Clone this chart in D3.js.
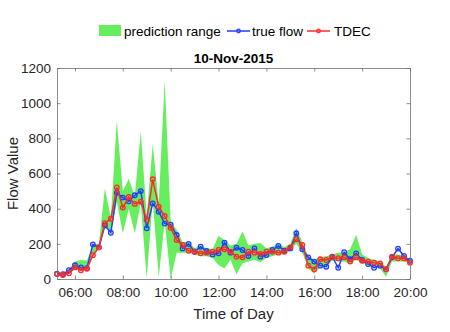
<!DOCTYPE html>
<html><head><meta charset="utf-8">
<script src="https://cdn.jsdelivr.net/npm/d3@7"></script>
<style>
body{margin:0;background:#fff;}
svg{display:block;font-family:"Liberation Sans",Arial,Helvetica,sans-serif;}
</style></head>
<body><svg id="c" width="450" height="332"></svg>
<script>
const times = ["05:15","05:30","05:45","06:00","06:15","06:30","06:45","07:00","07:15","07:30","07:45","08:00","08:15","08:30","08:45","09:00","09:15","09:30","09:45","10:00","10:15","10:30","10:45","11:00","11:15","11:30","11:45","12:00","12:15","12:30","12:45","13:00","13:15","13:30","13:45","14:00","14:15","14:30","14:45","15:00","15:15","15:30","15:45","16:00","16:15","16:30","16:45","17:00","17:15","17:30","17:45","18:00","18:15","18:30","18:45","19:00","19:15","19:30","19:45","20:00"];
const trueFlow = [30,27,50,78,66,62,197,180,305,263,491,463,442,476,500,288,430,383,315,309,250,174,199,155,184,159,140,146,207,150,178,165,131,174,127,136,165,188,161,174,260,169,123,99,76,70,127,64,152,112,146,108,85,64,76,55,123,173,131,104];
const tdec = [28,23,32,66,50,58,135,180,317,343,521,406,466,427,440,336,567,411,358,291,222,193,161,155,146,150,155,165,169,155,127,123,155,150,142,155,155,150,155,180,226,193,76,55,112,108,123,118,123,99,123,104,99,93,89,55,127,118,118,93];
const rangeLow = [22,18,30,60,45,55,130,170,290,270,440,260,400,260,430,3,450,10,330,0,150,150,150,140,130,130,120,80,60,110,25,90,100,110,95,120,130,140,140,160,200,150,60,30,70,75,105,100,100,85,110,90,80,70,60,13,100,100,100,85];
const rangeHigh = [35,32,55,100,108,105,195,200,515,350,900,500,570,470,838,360,766,430,1128,330,280,210,210,175,190,175,170,245,220,190,200,270,190,200,205,175,185,200,180,200,290,210,130,110,125,130,140,150,150,170,250,140,120,110,100,70,140,140,130,100];
const xTicks = ["06:00","08:00","10:00","12:00","14:00","16:00","18:00","20:00"];
const yTicks = [0,200,400,600,800,1000,1200];
const seriesNames = ["prediction range","true flow","TDEC"];
const colors = {band:"#66ee5e", trueFlow:"#1f3fff", tdec:"#ff2a2a"};

const toH = s => { const [h,m] = s.split(":").map(Number); return h + m/60; };
const svg = d3.select("#c");
const L=57, R=410, T=68, B=279;
const x = d3.scaleLinear().domain([toH(times[0]), toH(times[times.length-1])]).range([L,R]);
const y = d3.scaleLinear().domain([0,1200]).range([B,T]);
const axisCol = "#6e6e6e";

// band
const rows = times.map((t,i)=>({h:toH(t), lo:rangeLow[i], hi:rangeHigh[i], tf:trueFlow[i], td:tdec[i]}));
svg.append("path").datum(rows)
  .attr("d", d3.area().x(d=>x(d.h)).y0(d=>y(d.lo)).y1(d=>y(d.hi)))
  .attr("fill", colors.band).attr("stroke","none");

function series(key, col){
  svg.append("path").datum(rows)
    .attr("d", d3.line().x(d=>x(d.h)).y(d=>y(d[key])))
    .attr("fill","none").attr("stroke",col).attr("stroke-width",1.5);
  svg.append("g").selectAll("circle").data(rows).join("circle")
    .attr("cx",d=>x(d.h)).attr("cy",d=>y(d[key])).attr("r",2.3)
    .attr("fill","none").attr("stroke",col).attr("stroke-width",1.3);
}
series("tf", colors.trueFlow);
series("td", colors.tdec);

// axes
const fmt = v => xTicks.find(s=>toH(s)===v) || "";
const xv = xTicks.map(toH);
const gxB = svg.append("g").attr("transform",`translate(0,${B})`)
  .call(d3.axisBottom(x).tickValues(xv).tickFormat(fmt).tickSizeInner(-3.5).tickSizeOuter(0).tickPadding(8));
const gxT = svg.append("g").attr("transform",`translate(0,${T})`)
  .call(d3.axisTop(x).tickValues(xv).tickFormat("").tickSizeInner(-3.5).tickSizeOuter(0));
const gyL = svg.append("g").attr("transform",`translate(${L},0)`)
  .call(d3.axisLeft(y).tickValues(yTicks).tickFormat(d3.format("d")).tickSizeInner(-3.5).tickSizeOuter(0).tickPadding(6));
const gyR = svg.append("g").attr("transform",`translate(${R},0)`)
  .call(d3.axisRight(y).tickValues(yTicks).tickFormat("").tickSizeInner(-3.5).tickSizeOuter(0));
[gxB,gxT,gyL,gyR].forEach(g=>{
  g.selectAll("path,line").attr("stroke",axisCol).attr("stroke-width",0.8);
  g.selectAll("text").attr("fill","#262626").attr("font-size",13.5).attr("font-family","Liberation Sans, Arial, sans-serif");
});

// titles
svg.append("text").attr("x",(L+R)/2).attr("y",63).attr("text-anchor","middle")
  .attr("font-weight","bold").attr("font-size",13.5).attr("fill","#000").text("10-Nov-2015");
svg.append("text").attr("x",(L+R)/2).attr("y",319).attr("text-anchor","middle")
  .attr("font-size",15).attr("fill","#262626").text("Time of Day");
svg.append("text").attr("transform",`translate(18,${(T+B)/2}) rotate(-90)`).attr("text-anchor","middle")
  .attr("font-size",15).attr("fill","#262626").text("Flow Value");

// legend
const lg = svg.append("g").attr("font-size",13.5).attr("fill","#000");
lg.append("rect").attr("x",99).attr("y",25).attr("width",22).attr("height",11).attr("fill",colors.band);
lg.append("text").attr("x",124).attr("y",36).text(seriesNames[0]);
[[227,colors.trueFlow,seriesNames[1],252],[307,colors.tdec,seriesNames[2],334]].forEach(([lx,c,t,tx])=>{
  lg.append("line").attr("x1",lx).attr("x2",lx+23).attr("y1",31).attr("y2",31).attr("stroke",c).attr("stroke-width",1.5);
  lg.append("circle").attr("cx",lx+11.5).attr("cy",31).attr("r",1.8).attr("fill","none").attr("stroke",c).attr("stroke-width",1.2);
  lg.append("text").attr("x",tx).attr("y",36).text(t);
});
</script></body></html>
